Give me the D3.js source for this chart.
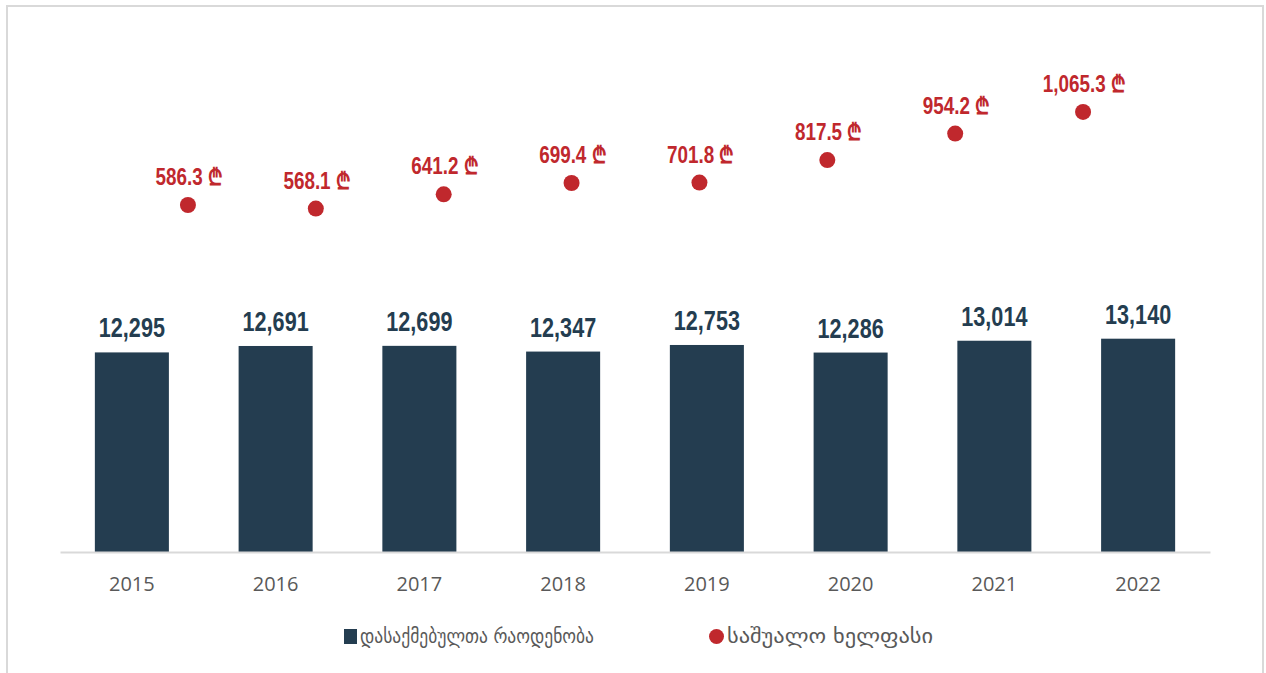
<!DOCTYPE html>
<html>
<head>
<meta charset="utf-8">
<script src="https://cdn.jsdelivr.net/npm/d3@7"></script>
<style>
  html, body { margin: 0; padding: 0; background: #fff; }
  svg { display: block; }
</style>
</head>
<body>
<svg width="1266" height="673"></svg>
<script>
const years = ["2015", "2016", "2017", "2018", "2019", "2020", "2021", "2022"];
const employed = [12295, 12691, 12699, 12347, 12753, 12286, 13014, 13140];
const salary = [586.3, 568.1, 641.2, 699.4, 701.8, 817.5, 954.2, 1065.3];
const legendLabels = ["დასაქმებულთა რაოდენობა", "საშუალო ხელფასი"];

const BAR = "#243d50",
  RED = "#c0282d",
  GRAY = "#595959";

const svg = d3.select("svg");
const svgW = 1266, svgH = 673;

// frame
svg.append("rect")
  .attr("x", 7).attr("y", 6)
  .attr("width", svgW - 10).attr("height", svgH + 10)
  .attr("fill", "#fff")
  .attr("stroke", "#d9d9d9")
  .attr("stroke-width", 2);

const margin = { top: 65, left: 60, right: 56, bottom: 121 },
  width = svgW - margin.left - margin.right,
  height = svgH - margin.top - margin.bottom;

const g = svg.append("g").attr("transform", `translate(${margin.left},${margin.top})`);

const x = d3.scaleBand().domain(years).range([0, width]).paddingInner(0.485).paddingOuter(0.2425);
// the salary dots sit on their own (secondary) category axis
const x2 = d3.scaleBand().domain(years).range([64, 64 + 1023]);
const y = d3.scaleLinear().domain([0, 30000]).range([height, 0]);
const y2 = d3.scaleLinear().domain([-1200, 1307]).range([height, 0]);

// condensed bold numbers (no narrow face installed, so squeeze Liberation Sans)
const numFont = "'Liberation Sans', Arial, sans-serif";

// bars
g.selectAll("rect.bar")
  .data(employed)
  .enter()
  .append("rect")
  .attr("class", "bar")
  .attr("x", (d, i) => x(years[i]))
  .attr("y", (d) => y(d))
  .attr("width", x.bandwidth())
  .attr("height", (d) => height - y(d))
  .attr("fill", BAR);

g.selectAll("text.barlab")
  .data(employed)
  .enter()
  .append("text")
  .attr("class", "barlab")
  .attr("transform", (d, i) => `translate(${x(years[i]) + x.bandwidth() / 2},${y(d) - 15}) scale(0.8,1)`)
  .attr("text-anchor", "middle")
  .attr("font-family", numFont)
  .attr("font-weight", "bold")
  .attr("font-size", 27)
  .attr("fill", BAR)
  .text((d) => d3.format(",")(d));

// x axis
const xAxis = g.append("g")
  .attr("transform", `translate(0,${height})`)
  .call(d3.axisBottom(x).tickSize(0));
xAxis.select(".domain").attr("stroke", "#d9d9d9").attr("stroke-width", 2);
xAxis.selectAll("text")
  .attr("y", 39)
  .attr("dy", 0)
  .attr("font-family", "'Open Sans', 'Noto Sans', sans-serif")
  .attr("font-size", 20)
  .attr("fill", GRAY);

// salary dots
g.selectAll("circle.dot")
  .data(salary)
  .enter()
  .append("circle")
  .attr("class", "dot")
  .attr("cx", (d, i) => x2(years[i]) + x2.bandwidth() / 2)
  .attr("cy", (d) => y2(d))
  .attr("r", 8)
  .attr("fill", RED);

g.selectAll("text.dotlab")
  .data(salary)
  .enter()
  .append("text")
  .attr("class", "dotlab")
  .attr("transform", (d, i) => `translate(${x2(years[i]) + x2.bandwidth() / 2 + 1},${y2(d) - 20}) scale(0.82,1)`)
  .attr("text-anchor", "middle")
  .attr("font-family", numFont)
  .attr("font-weight", "bold")
  .attr("font-size", 23)
  .attr("fill", RED)
  .text((d) => d3.format(",.1f")(d) + " ₾");

// legend
const legend = svg.append("g").attr("transform", "translate(344,636)");
const legFont = "'DejaVu Sans', sans-serif";

legend.append("rect")
  .attr("x", 0).attr("y", -7)
  .attr("width", 13).attr("height", 15)
  .attr("fill", BAR);
legend.append("text")
  .attr("x", 16).attr("y", 7)
  .attr("font-family", legFont)
  .attr("font-size", 20)
  .attr("textLength", 234)
  .attr("lengthAdjust", "spacingAndGlyphs")
  .attr("fill", GRAY)
  .text(legendLabels[0]);

legend.append("circle")
  .attr("cx", 372.5).attr("cy", 0.5)
  .attr("r", 7.5)
  .attr("fill", RED);
legend.append("text")
  .attr("x", 383).attr("y", 7)
  .attr("font-family", legFont)
  .attr("font-size", 20)
  .attr("textLength", 206)
  .attr("lengthAdjust", "spacingAndGlyphs")
  .attr("fill", GRAY)
  .text(legendLabels[1]);
</script>
</body>
</html>
